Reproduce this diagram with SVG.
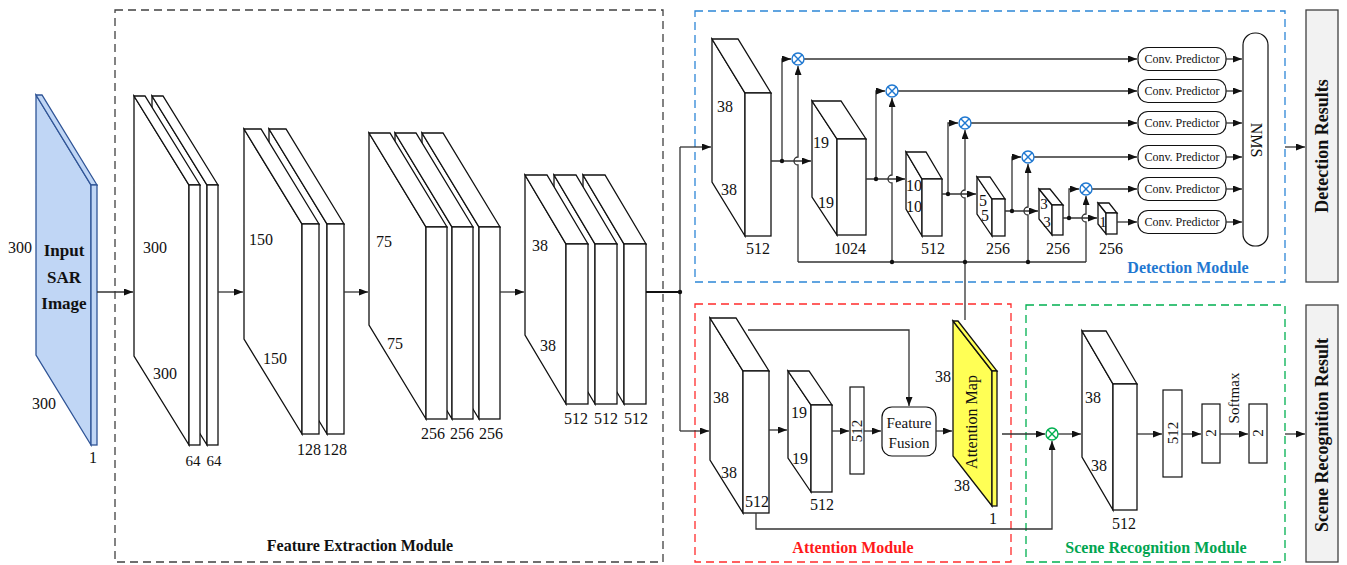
<svg xmlns="http://www.w3.org/2000/svg" width="1347" height="565" viewBox="0 0 1347 565">
<defs>
<marker id="ar" markerWidth="9" markerHeight="7" refX="9" refY="3.5" orient="auto" markerUnits="userSpaceOnUse"><path d="M0,0 L9,3.5 L0,7 z" fill="#111"/></marker>
<style>
.t{font-family:"Liberation Serif","Times New Roman",serif;font-size:16px;fill:#111}
.s{font-size:15px}
.cp{font-size:12px}
.b{font-weight:bold}
.blk polygon,.blk rect{fill:#fff;stroke:#111;stroke-width:1.3}
.ln{fill:none;stroke:#333;stroke-width:1.3}
.dash{fill:none;stroke-width:1.3;stroke-dasharray:8 5}
.dot{fill:#111}
.mul circle{fill:#fff;stroke-width:1.4}
.mul path{stroke-width:1.4;fill:none}
.rb{fill:#fff;stroke:#111;stroke-width:1.2}
</style>
</defs>
<rect width="1347" height="565" fill="#fff"/>

<!-- module frames -->
<g id="frames">
<rect class="dash" x="115" y="10" width="548" height="552" stroke="#404040"/>
<rect class="dash" x="695" y="11" width="590" height="271" stroke="#2d86d6"/>
<rect class="dash" x="695" y="304" width="316" height="258" stroke="#ff2b2b"/>
<rect class="dash" x="1026" y="305" width="259" height="257" stroke="#00b050"/>
<text class="t b" x="360" y="551" text-anchor="middle">Feature Extraction Module</text>
<text class="t b" x="1188" y="273" text-anchor="middle" style="fill:#1f78d1">Detection Module</text>
<text class="t b" x="853" y="553" text-anchor="middle" style="fill:#ff1a1a">Attention Module</text>
<text class="t b" x="1156" y="553" text-anchor="middle" style="fill:#00a550">Scene Recognition Module</text>
</g>

<!-- input -->
<g id="input">
<polygon points="91,185 36,95 36,355 91,445" fill="#c0d6f5" stroke="#2f5496" stroke-width="1.3"/>
<polygon points="36,95 42,95 97,185 91,185" fill="#c0d6f5" stroke="#2f5496" stroke-width="1.3"/>
<rect x="91" y="185" width="6" height="260" fill="#c0d6f5" stroke="#2f5496" stroke-width="1.3"/>
<text class="t b" x="64" y="256" text-anchor="middle" style="font-size:17px">Input</text>
<text class="t b" x="64" y="283" text-anchor="middle" style="font-size:17px">SAR</text>
<text class="t b" x="64" y="309" text-anchor="middle" style="font-size:17px">Image</text>
<text class="t" x="20" y="253" text-anchor="middle">300</text>
<text class="t" x="44" y="409" text-anchor="middle">300</text>
<text class="t" x="93" y="463" text-anchor="middle">1</text>
</g>

<!-- conv1 -->
<g id="conv1" class="blk">
<polygon points="207,185 152,96 152,356 207,445"/><polygon points="152,96 163,96 218,185 207,185"/><rect x="207" y="185" width="11" height="260"/>
<polygon points="189,185 134,96 134,356 189,445"/><polygon points="134,96 145,96 200,185 189,185"/><rect x="189" y="185" width="11" height="260"/>
<text class="t" x="155" y="253" text-anchor="middle">300</text>
<text class="t" x="165" y="379" text-anchor="middle">300</text>
<text class="t s" x="193" y="466" text-anchor="middle">64</text>
<text class="t s" x="214" y="466" text-anchor="middle">64</text>
</g>

<!-- conv2 -->
<g id="conv2" class="blk">
<polygon points="327,224 269,129 269,339 327,434"/><polygon points="269,129 286,129 344,224 327,224"/><rect x="327" y="224" width="17" height="210"/>
<polygon points="302,224 244,129 244,339 302,434"/><polygon points="244,129 261,129 319,224 302,224"/><rect x="302" y="224" width="17" height="210"/>
<text class="t" x="261" y="245" text-anchor="middle">150</text>
<text class="t" x="275" y="364" text-anchor="middle">150</text>
<text class="t" x="309" y="455" text-anchor="middle">128</text>
<text class="t" x="335" y="455" text-anchor="middle">128</text>
</g>

<!-- conv3 -->
<g id="conv3" class="blk">
<polygon points="479,227 422,133 422,325 479,419"/><polygon points="422,133 443,133 500,227 479,227"/><rect x="479" y="227" width="21" height="192"/>
<polygon points="452,227 395,133 395,325 452,419"/><polygon points="395,133 416,133 473,227 452,227"/><rect x="452" y="227" width="21" height="192"/>
<polygon points="426,227 369,133 369,325 426,419"/><polygon points="369,133 390,133 447,227 426,227"/><rect x="426" y="227" width="21" height="192"/>
<text class="t" x="384" y="247" text-anchor="middle">75</text>
<text class="t" x="395" y="349" text-anchor="middle">75</text>
<text class="t" x="433" y="439" text-anchor="middle">256</text>
<text class="t" x="462" y="439" text-anchor="middle">256</text>
<text class="t" x="491" y="439" text-anchor="middle">256</text>
</g>

<!-- conv4 -->
<g id="conv4" class="blk">
<polygon points="624,244 583,175 583,335 624,404"/><polygon points="583,175 605,175 646,244 624,244"/><rect x="624" y="244" width="22" height="160"/>
<polygon points="595,244 554,175 554,335 595,404"/><polygon points="554,175 576,175 617,244 595,244"/><rect x="595" y="244" width="22" height="160"/>
<polygon points="566,244 525,175 525,335 566,404"/><polygon points="525,175 547,175 588,244 566,244"/><rect x="566" y="244" width="22" height="160"/>
<text class="t" x="540" y="251" text-anchor="middle">38</text>
<text class="t" x="548" y="351" text-anchor="middle">38</text>
<text class="t" x="576" y="424" text-anchor="middle">512</text>
<text class="t" x="606" y="424" text-anchor="middle">512</text>
<text class="t" x="636" y="424" text-anchor="middle">512</text>
</g>

<!-- detection blocks -->
<g id="det1" class="blk">
<polygon points="745,93 712,39 712,182 745,236"/><polygon points="712,39 738,39 771,93 745,93"/><rect x="745" y="93" width="26" height="143"/>
<text class="t" x="725" y="112" text-anchor="middle">38</text>
<text class="t" x="729" y="195" text-anchor="middle">38</text>
<text class="t" x="758" y="254" text-anchor="middle">512</text>
</g>
<g id="det2" class="blk">
<polygon points="837,139 812,101 812,197 837,235"/><polygon points="812,101 841,101 866,139 837,139"/><rect x="837" y="139" width="29" height="96"/>
<text class="t" x="821" y="148" text-anchor="middle">19</text>
<text class="t" x="826" y="208" text-anchor="middle">19</text>
<text class="t" x="850" y="254" text-anchor="middle">1024</text>
</g>
<g id="det3" class="blk">
<polygon points="922,179 906,152 906,209 922,236"/><polygon points="906,152 926,152 942,179 922,179"/><rect x="922" y="179" width="20" height="57"/>
<text class="t" x="914" y="191" text-anchor="middle">10</text>
<text class="t" x="914" y="212" text-anchor="middle">10</text>
<text class="t" x="933" y="254" text-anchor="middle">512</text>
</g>
<g id="det4" class="blk">
<polygon points="992,199 977,177 977,214 992,236"/><polygon points="977,177 990,177 1005,199 992,199"/><rect x="992" y="199" width="13" height="37"/>
<text class="t" x="983" y="206" text-anchor="middle">5</text>
<text class="t" x="985" y="221" text-anchor="middle">5</text>
<text class="t" x="998" y="254" text-anchor="middle">256</text>
</g>
<g id="det5" class="blk">
<polygon points="1052,205 1039,189 1039,219 1052,235"/><polygon points="1039,189 1050,189 1063,205 1052,205"/><rect x="1052" y="205" width="11" height="30"/>
<text class="t s" x="1044" y="209" text-anchor="middle">3</text>
<text class="t s" x="1047" y="227" text-anchor="middle">3</text>
<text class="t" x="1058" y="254" text-anchor="middle">256</text>
</g>
<g id="det6" class="blk">
<polygon points="1106,213 1098,203 1098,224 1106,234"/><polygon points="1098,203 1109,203 1117,213 1106,213"/><rect x="1106" y="213" width="11" height="21"/>
<text class="t s" x="1103" y="227" text-anchor="middle">1</text>
<text class="t" x="1111" y="254" text-anchor="middle">256</text>
</g>

<!-- predictors -->
<g id="predictors">
<rect class="rb" x="1138" y="47.5" width="88" height="23" rx="10"/>
<rect class="rb" x="1138" y="79.5" width="88" height="23" rx="10"/>
<rect class="rb" x="1138" y="111.5" width="88" height="23" rx="10"/>
<rect class="rb" x="1138" y="145.5" width="88" height="23" rx="10"/>
<rect class="rb" x="1138" y="177.5" width="88" height="23" rx="10"/>
<rect class="rb" x="1138" y="210.5" width="88" height="23" rx="10"/>
<text class="t cp" x="1182" y="63" text-anchor="middle">Conv. Predictor</text>
<text class="t cp" x="1182" y="95" text-anchor="middle">Conv. Predictor</text>
<text class="t cp" x="1182" y="127" text-anchor="middle">Conv. Predictor</text>
<text class="t cp" x="1182" y="161" text-anchor="middle">Conv. Predictor</text>
<text class="t cp" x="1182" y="193" text-anchor="middle">Conv. Predictor</text>
<text class="t cp" x="1182" y="226" text-anchor="middle">Conv. Predictor</text>
</g>
<g id="nms">
<rect class="rb" x="1243" y="33" width="25" height="213" rx="12"/>
<text class="t" transform="translate(1256,140) rotate(90)" text-anchor="middle" dominant-baseline="central">NMS</text>
</g>

<!-- results -->
<g id="detResults">
<rect x="1306" y="10" width="32" height="272" fill="#f2f2f2" stroke="#404040" stroke-width="1.3"/>
<text class="t b" transform="translate(1322,146) rotate(-90)" text-anchor="middle" dominant-baseline="central" style="font-size:18px">Detection Results</text>
</g>
<g id="sceneResult">
<rect x="1306" y="305" width="32" height="257" fill="#f2f2f2" stroke="#404040" stroke-width="1.3"/>
<text class="t b" transform="translate(1322,435) rotate(-90)" text-anchor="middle" dominant-baseline="central" style="font-size:18px">Scene Recognition Result</text>
</g>

<!-- attention -->
<g id="att1" class="blk">
<polygon points="743,371 710,318 710,460 743,513"/><polygon points="710,318 736,318 769,371 743,371"/><rect x="743" y="371" width="26" height="142"/>
<text class="t" x="721" y="403" text-anchor="middle">38</text>
<text class="t" x="729" y="478" text-anchor="middle">38</text>
<text class="t" x="757" y="507" text-anchor="middle">512</text>
</g>
<g id="att2" class="blk">
<polygon points="811,405 788,371 788,458 811,492"/><polygon points="788,371 809,371 832,405 811,405"/><rect x="811" y="405" width="21" height="87"/>
<text class="t" x="799" y="418" text-anchor="middle">19</text>
<text class="t" x="800" y="464" text-anchor="middle">19</text>
<text class="t" x="822" y="510" text-anchor="middle">512</text>
</g>
<g id="fc512a">
<rect class="rb" x="850" y="387" width="14" height="87"/>
<text class="t s" transform="translate(857,431) rotate(-90)" text-anchor="middle" dominant-baseline="central">512</text>
</g>
<g id="fusion">
<rect class="rb" x="882" y="407" width="54" height="49" rx="10"/>
<text class="t s" x="909" y="428" text-anchor="middle">Feature</text>
<text class="t s" x="909" y="448" text-anchor="middle">Fusion</text>
</g>
<g id="attmap">
<polygon points="992,371 953,321 953,456 992,506" fill="#ffff55" stroke="#111" stroke-width="1.3"/>
<polygon points="953,321 958,321 997,371 992,371" fill="#ffff55" stroke="#111" stroke-width="1.3"/>
<rect x="992" y="371" width="5" height="135" fill="#ffff55" stroke="#111" stroke-width="1.3"/>
<text class="t" transform="translate(971,422) rotate(-90)" text-anchor="middle" dominant-baseline="central">Attention Map</text>
<text class="t" x="943" y="382" text-anchor="middle">38</text>
<text class="t" x="962" y="491" text-anchor="middle">38</text>
<text class="t" x="993" y="524" text-anchor="middle">1</text>
</g>

<!-- scene recognition -->
<g id="scene1" class="blk">
<polygon points="1113,384 1082,331 1082,457 1113,510"/><polygon points="1082,331 1106,331 1137,384 1113,384"/><rect x="1113" y="384" width="24" height="126"/>
<text class="t" x="1093" y="403" text-anchor="middle">38</text>
<text class="t" x="1099" y="471" text-anchor="middle">38</text>
<text class="t" x="1124" y="529" text-anchor="middle">512</text>
</g>
<g id="fc512b">
<rect class="rb" x="1163" y="390" width="19" height="87"/>
<text class="t s" transform="translate(1172.5,433) rotate(-90)" text-anchor="middle" dominant-baseline="central">512</text>
</g>
<g id="fc2a">
<rect class="rb" x="1202" y="404" width="18" height="59"/>
<text class="t s" transform="translate(1211,433) rotate(-90)" text-anchor="middle" dominant-baseline="central">2</text>
</g>
<g id="fc2b">
<rect class="rb" x="1249" y="404" width="18" height="59"/>
<text class="t s" transform="translate(1258,433) rotate(-90)" text-anchor="middle" dominant-baseline="central">2</text>
</g>
<text class="t s" transform="translate(1234,398) rotate(-90)" text-anchor="middle" dominant-baseline="central">Softmax</text>

<!-- connectors -->
<g id="connectors">
<path class="ln" d="M97,292 H133" marker-end="url(#ar)"/>
<path class="ln" d="M218,292 H243" marker-end="url(#ar)"/>
<path class="ln" d="M344,292 H368" marker-end="url(#ar)"/>
<path class="ln" d="M500,292 H524" marker-end="url(#ar)"/>
<path class="ln" d="M646,292 H680" style="stroke-width:1.8;stroke:#111"/>
<path class="ln" d="M680,147 V431"/>
<path class="ln" d="M680,147 H711" marker-end="url(#ar)"/>
<path class="ln" d="M680,431 H709" marker-end="url(#ar)"/>
<circle class="dot" cx="680" cy="292" r="2.2"/>

<!-- detection level 1 -->
<path class="ln" d="M771,161 H811" marker-end="url(#ar)"/>
<path class="ln" d="M782,161 V59 H791" marker-end="url(#ar)"/>
<path class="ln" d="M798,262 V165 A4,4 0 0 1 798,157 V66" marker-end="url(#ar)"/>
<path class="ln" d="M804,59 H1137" marker-end="url(#ar)"/>
<circle class="dot" cx="782" cy="161" r="2.2"/>
<!-- level 2 -->
<path class="ln" d="M866,179 H905" marker-end="url(#ar)"/>
<path class="ln" d="M876,179 V91 H885" marker-end="url(#ar)"/>
<path class="ln" d="M892,262 V183 A4,4 0 0 1 892,175 V98" marker-end="url(#ar)"/>
<path class="ln" d="M898,91 H1137" marker-end="url(#ar)"/>
<circle class="dot" cx="876" cy="179" r="2.2"/>
<!-- level 3 -->
<path class="ln" d="M942,194 H976" marker-end="url(#ar)"/>
<path class="ln" d="M948,194 V123 H958" marker-end="url(#ar)"/>
<path class="ln" d="M965,320 V198 A4,4 0 0 1 965,190 V130" marker-end="url(#ar)"/>
<path class="ln" d="M971,123 H1137" marker-end="url(#ar)"/>
<circle class="dot" cx="948" cy="194" r="2.2"/>
<!-- level 4 -->
<path class="ln" d="M1005,211 H1038" marker-end="url(#ar)"/>
<path class="ln" d="M1012,211 V157 H1021" marker-end="url(#ar)"/>
<path class="ln" d="M1028,262 V215 A4,4 0 0 1 1028,207 V164" marker-end="url(#ar)"/>
<path class="ln" d="M1034,157 H1137" marker-end="url(#ar)"/>
<circle class="dot" cx="1012" cy="211" r="2.2"/>
<!-- level 5 -->
<path class="ln" d="M1063,218 H1097" marker-end="url(#ar)"/>
<path class="ln" d="M1069,218 V189 H1079" marker-end="url(#ar)"/>
<path class="ln" d="M1086,262 V222 A4,4 0 0 1 1086,214 V196" marker-end="url(#ar)"/>
<path class="ln" d="M1092,189 H1137" marker-end="url(#ar)"/>
<circle class="dot" cx="1069" cy="218" r="2.2"/>
<!-- level 6 -->
<path class="ln" d="M1117,222 H1137" marker-end="url(#ar)"/>
<!-- attention distribution bus -->
<path class="ln" d="M798,262 H1086"/>
<circle class="dot" cx="892" cy="262" r="2.2"/>
<circle class="dot" cx="965" cy="262" r="2.2"/>
<circle class="dot" cx="1028" cy="262" r="2.2"/>
<!-- predictors to NMS -->
<path class="ln" d="M1226,59 H1242" marker-end="url(#ar)"/>
<path class="ln" d="M1226,91 H1242" marker-end="url(#ar)"/>
<path class="ln" d="M1226,123 H1242" marker-end="url(#ar)"/>
<path class="ln" d="M1226,157 H1242" marker-end="url(#ar)"/>
<path class="ln" d="M1226,189 H1242" marker-end="url(#ar)"/>
<path class="ln" d="M1226,222 H1242" marker-end="url(#ar)"/>
<path class="ln" d="M1285,147 H1305" marker-end="url(#ar)"/>

<!-- attention module -->
<path class="ln" d="M748,330 H909 V406" marker-end="url(#ar)"/>
<path class="ln" d="M769,430 H787" marker-end="url(#ar)"/>
<path class="ln" d="M832,431 H849" marker-end="url(#ar)"/>
<path class="ln" d="M864,431 H881" marker-end="url(#ar)"/>
<path class="ln" d="M936,431 H952" marker-end="url(#ar)"/>
<path class="ln" d="M1002,434 H1045" marker-end="url(#ar)"/>
<path class="ln" d="M756,513 V529 H1052 V441" marker-end="url(#ar)"/>
<!-- scene module -->
<path class="ln" d="M1058,434 H1081" marker-end="url(#ar)"/>
<path class="ln" d="M1137,434 H1162" marker-end="url(#ar)"/>
<path class="ln" d="M1182,434 H1201" marker-end="url(#ar)"/>
<path class="ln" d="M1220,434 H1248" marker-end="url(#ar)"/>
<path class="ln" d="M1285,434 H1305" marker-end="url(#ar)"/>
</g>

<!-- multiplication nodes -->
<g id="mul1" class="mul"><circle cx="798" cy="59" r="6" stroke="#1f78d1"/><path d="M793.8,54.8 L802.2,63.2 M802.2,54.8 L793.8,63.2" stroke="#1f78d1"/></g>
<g id="mul2" class="mul"><circle cx="892" cy="91" r="6" stroke="#1f78d1"/><path d="M887.8,86.8 L896.2,95.2 M896.2,86.8 L887.8,95.2" stroke="#1f78d1"/></g>
<g id="mul3" class="mul"><circle cx="965" cy="123" r="6" stroke="#1f78d1"/><path d="M960.8,118.8 L969.2,127.2 M969.2,118.8 L960.8,127.2" stroke="#1f78d1"/></g>
<g id="mul4" class="mul"><circle cx="1028" cy="157" r="6" stroke="#1f78d1"/><path d="M1023.8,152.8 L1032.2,161.2 M1032.2,152.8 L1023.8,161.2" stroke="#1f78d1"/></g>
<g id="mul5" class="mul"><circle cx="1086" cy="189" r="6" stroke="#1f78d1"/><path d="M1081.8,184.8 L1090.2,193.2 M1090.2,184.8 L1081.8,193.2" stroke="#1f78d1"/></g>
<g id="mul6" class="mul"><circle cx="1052" cy="434" r="6" stroke="#00b050"/><path d="M1047.8,429.8 L1056.2,438.2 M1056.2,429.8 L1047.8,438.2" stroke="#00b050"/></g>
</svg>
